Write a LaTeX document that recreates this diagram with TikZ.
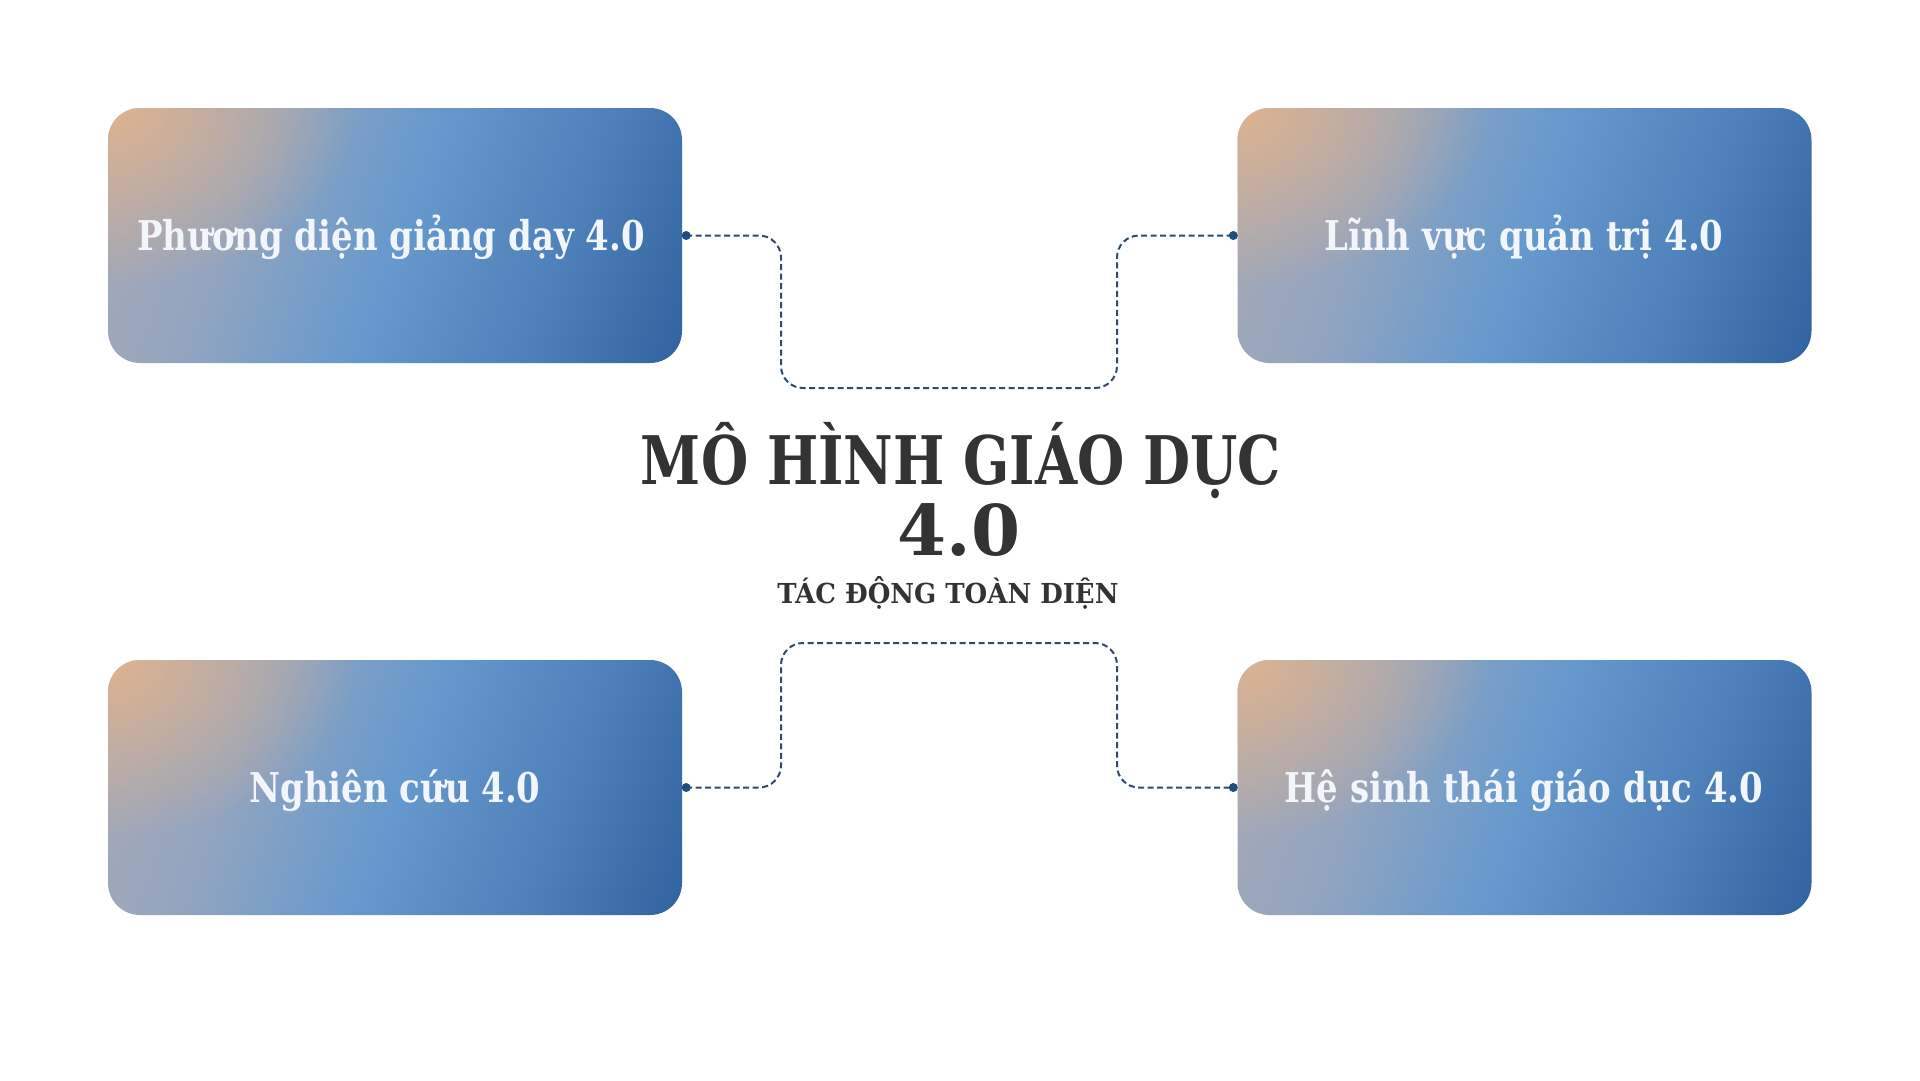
\documentclass[tikz,border=0pt]{standalone}
\usepackage{fontspec}
\newfontfamily\cardfont[FakeStretch=0.92]{DejaVu Serif Condensed Bold}
\newfontfamily\titlefont[FakeStretch=0.90]{DejaVu Serif Condensed Bold}
\newfontfamily\numfont[FakeStretch=1.12]{DejaVu Serif Condensed Bold}
\newfontfamily\subfont[FakeStretch=1.05]{DejaVu Serif Condensed Bold}
\usetikzlibrary{calc,fadings}
\definecolor{gpeach}{HTML}{E0B38D}
\definecolor{ggray}{HTML}{A9AAB5}
\definecolor{gbgray}{HTML}{93A5BF}
\definecolor{glight}{HTML}{6699CD}
\definecolor{gmid}{HTML}{4E80BA}
\definecolor{gdark}{HTML}{30639F}
\definecolor{connc}{HTML}{2E4A6C}
\definecolor{dotc}{HTML}{1F4E7E}
\definecolor{titlec}{HTML}{333333}
\definecolor{cardtext}{HTML}{F2F5FA}
\pgfdeclarehorizontalshading{boxgrad}{100bp}{color(0bp)=(ggray); color(25bp)=(ggray); color(37bp)=(gbgray); color(50bp)=(glight); color(63bp)=(gmid); color(75bp)=(gdark); color(100bp)=(gdark)}
\tikzfading[name=peachfade, inner color=transparent!5, outer color=transparent!100]
\tikzset{
  card/.style={rounded corners=32pt, minimum width=574pt, minimum height=255pt, inner sep=0pt,
    path picture={
      \shade[shading=boxgrad, shading angle=-20] ($(path picture bounding box.center)+(-313,-313)$) rectangle ++(626,626);
      \fill[gpeach, path fading=peachfade] (path picture bounding box.north west) ellipse [x radius=250pt, y radius=180pt];
    }},
  cardlabel/.style={anchor=base, text=cardtext, font=\cardfont\fontsize{41}{48}\selectfont, inner sep=0pt},
  conn/.style={draw=connc, line width=2pt, dash pattern=on 6pt off 3.5pt, rounded corners=22pt},
  enddot/.style={circle, fill=dotc, inner sep=0pt, minimum size=9pt},
  titletext/.style={text=titlec, font=\titlefont\fontsize{67}{71}\selectfont, inner sep=0pt, anchor=base},
  numtext/.style={text=titlec, font=\numfont\fontsize{70}{74}\selectfont, inner sep=0pt, anchor=base},
  subtext/.style={text=titlec, font=\subfont\fontsize{27.5}{32}\selectfont, inner sep=0pt, anchor=base}
}
\begin{document}
\begin{tikzpicture}[x=1pt, y=-1pt]
\fill[white] (0,0) rectangle (1920,1080);
\useasboundingbox (0,0) rectangle (1920,1080);
% cards
\node[card] (pdgd) at (395,235.5) {};
\node[card] (lvqt) at (1524.5,235.5) {};
\node[card] (ncuu) at (395,787.5) {};
\node[card] (hstg) at (1524.5,787.5) {};
\node[cardlabel] (tpdgd) at (391,250) {Phương diện giảng dạy 4.0};
\node[cardlabel] (tlvqt) at (1524,250) {Lĩnh vực quản trị 4.0};
\node[cardlabel] (tncuu) at (395,802) {Nghiên cứu 4.0};
\node[cardlabel] (thstg) at (1524,802) {Hệ sinh thái giáo dục 4.0};
% title
\node[titletext] (title1) at (961,484) {MÔ HÌNH GIÁO DỤC};
\node[numtext] (title2) at (959,555) {4.0};
\node[subtext] (sub) at (948,603) {TÁC ĐỘNG TOÀN DIỆN};
% connectors
\coordinate (p1) at ([xshift=4pt]pdgd.east);
\coordinate (p2) at ([xshift=-4pt]lvqt.west);
\coordinate (p3) at ([xshift=4pt]ncuu.east);
\coordinate (p4) at ([xshift=-4pt]hstg.west);
\coordinate (c1) at (781,388);
\coordinate (c2) at (1117,388);
\coordinate (c3) at (781,643);
\coordinate (c4) at (1117,643);
\draw[conn] (p1) -| (c1) -- (c2) |- (p2);
\draw[conn] (p3) -| (c3) -- (c4) |- (p4);
\node[enddot] (d1) at (p1) {};
\node[enddot] (d2) at (p2) {};
\node[enddot] (d3) at (p3) {};
\node[enddot] (d4) at (p4) {};
\end{tikzpicture}
\end{document}
